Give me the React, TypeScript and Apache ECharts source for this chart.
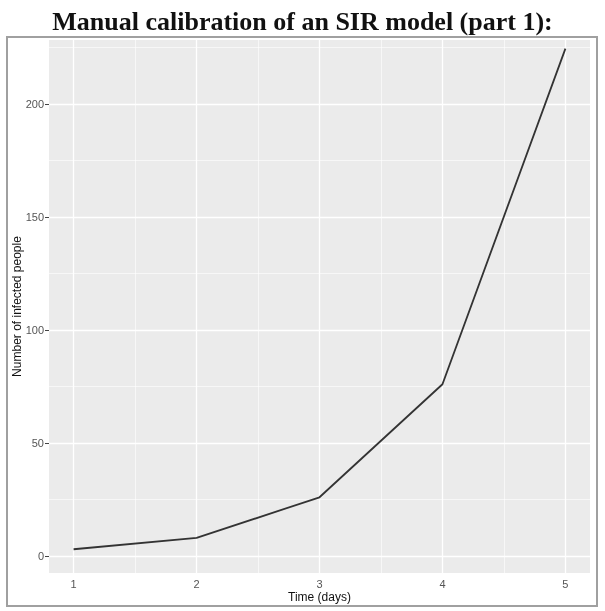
import React, { useEffect, useRef } from "react";
import * as echarts from "echarts";

const days = [1, 2, 3, 4, 5];
const infected = [3, 8, 26, 76, 224.5];
const xTicks = [1, 2, 3, 4, 5];
const xMinor = [1.5, 2.5, 3.5, 4.5];
const yTicks = [0, 50, 100, 150, 200];
const yMinor = [25, 75, 125, 175, 225];

const TITLE = "Manual calibration of an SIR model (part 1):";
const X_NAME = "Time (days)";
const Y_NAME = "Number of infected people";

export default function App() {
  const ref = useRef<HTMLDivElement>(null);
  useEffect(() => {
    if (!ref.current) return;
    const chart = echarts.init(ref.current, null, { renderer: "svg" });
    const sans = "Liberation Sans";
    const gridData: any[] = [];
    xMinor.forEach((v) => gridData.push({ xAxis: v, lineStyle: { color: "#ffffff", width: 0.6, type: "solid" } }));
    yMinor.forEach((v) => gridData.push({ yAxis: v, lineStyle: { color: "#ffffff", width: 0.6, type: "solid" } }));
    xTicks.forEach((v) => gridData.push({ xAxis: v, lineStyle: { color: "#ffffff", width: 1.3, type: "solid" } }));
    yTicks.forEach((v) => gridData.push({ yAxis: v, lineStyle: { color: "#ffffff", width: 1.3, type: "solid" } }));
    chart.setOption({
      animation: false,
      title: {
        text: TITLE,
        left: "center",
        top: 3,
        textStyle: { fontFamily: "Liberation Serif", fontWeight: "bold", fontSize: 26, color: "#111" },
      },
      graphic: [
        {
          type: "rect",
          shape: { x: 7, y: 37, width: 590, height: 569 },
          style: { fill: "none", stroke: "#a0a0a0", lineWidth: 2 },
          silent: true,
        },
      ],
      grid: {
        left: 49,
        right: 15,
        top: 40,
        bottom: 38,
        show: true,
        backgroundColor: "#ebebeb",
        borderWidth: 0,
        containLabel: false,
        outerBoundsMode: "none",
      },
      xAxis: {
        type: "value",
        min: 0.8,
        max: 5.2,
        name: X_NAME,
        nameLocation: "middle",
        nameGap: 18,
        nameMoveOverlap: false,
        nameTextStyle: { fontFamily: sans, fontSize: 12, color: "#111" },
        axisLine: { show: false },
        splitLine: { show: false },
        axisTick: { show: true, length: 4, customValues: xTicks, lineStyle: { color: "#444", width: 1 } },
        axisLabel: { customValues: xTicks, fontFamily: sans, fontSize: 11, color: "#555", margin: 5 },
      },
      yAxis: {
        type: "value",
        min: -7.5,
        max: 228.3,
        name: Y_NAME,
        nameLocation: "middle",
        nameGap: 26,
        nameMoveOverlap: false,
        nameTextStyle: { fontFamily: sans, fontSize: 12, color: "#111" },
        axisLine: { show: false },
        splitLine: { show: false },
        axisTick: { show: true, length: 4, customValues: yTicks, lineStyle: { color: "#444", width: 1 } },
        axisLabel: { customValues: yTicks, fontFamily: sans, fontSize: 11, color: "#555", margin: 5 },
      },
      series: [
        {
          type: "line",
          data: [],
          z: 1,
          silent: true,
          markLine: {
            silent: true,
            animation: false,
            z: 1,
            symbol: ["none", "none"],
            label: { show: false },
            data: gridData,
          },
        },
        {
          type: "line",
          z: 10,
          data: days.map((d, i) => [d, infected[i]]),
          symbol: "none",
          lineStyle: { color: "#333333", width: 1.8 },
        },
      ],
    });
    return () => chart.dispose();
  }, []);
  return <div ref={ref} style={{ position: "fixed", left: 0, top: 0, width: 605, height: 611 }} />;
}
